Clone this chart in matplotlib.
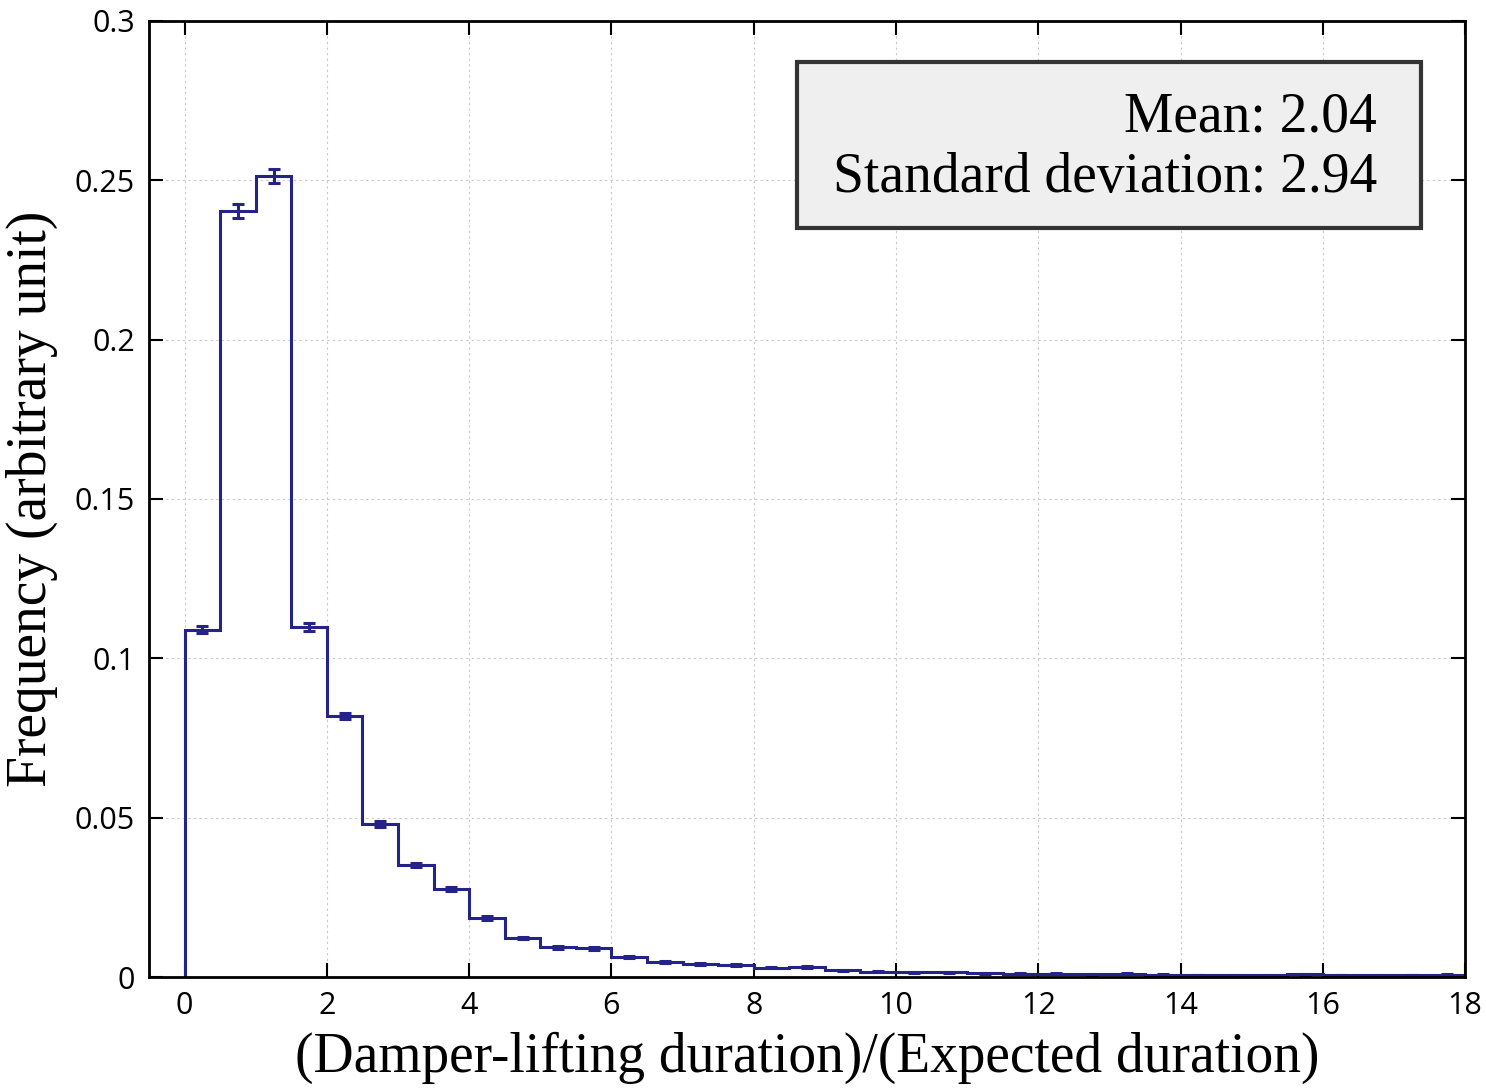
import numpy as np
import matplotlib
matplotlib.use("Agg")
import matplotlib.pyplot as plt
from matplotlib.patches import Rectangle

# Data
bin_edges = np.arange(0, 18.01, 0.5)
frequency = [0.109, 0.2403, 0.2513, 0.1098, 0.0819, 0.0480, 0.0352, 0.0277,
             0.0185, 0.0123, 0.0093, 0.0090, 0.0063, 0.0047, 0.0040, 0.0037,
             0.0029, 0.0031, 0.0021, 0.0017, 0.0015, 0.0015, 0.0012, 0.0011,
             0.0010, 0.0008, 0.0011, 0.0007, 0.0006, 0.0005, 0.0005, 0.0008,
             0.0006, 0.0005, 0.0006, 0.0007]
errors = [0.0012, 0.0022, 0.0022, 0.0012, 0.0010, 0.0008, 0.0007, 0.0006,
          0.0005, 0.0004, 0.0004, 0.0004, 0.0003, 0.0003, 0.0003, 0.0003,
          0.0002, 0.0002, 0.0002, 0.0002, 0.0002, 0.0002, 0.0002, 0.0002,
          0.0002, 0.0001, 0.0002, 0.0001, 0.0001, 0.0001, 0.0001, 0.0001,
          0.0001, 0.0001, 0.0001, 0.0001]
x_ticks = [0, 2, 4, 6, 8, 10, 12, 14, 16, 18]
y_ticks = [0, 0.05, 0.1, 0.15, 0.2, 0.25, 0.3]
y_tick_labels = ["0", "0.05", "0.1", "0.15", "0.2", "0.25", "0.3"]
stats_lines = ["Mean: 2.04", "Standard deviation: 2.94"]

color = "#23238a"
serif = "Liberation Serif"
sans = "Open Sans"

fig = plt.figure(figsize=(14.86, 10.92), dpi=100)
ax = fig.add_axes([0.1003, 0.1053, 0.8856, 0.8755])

ax.stairs(frequency, bin_edges, baseline=0, fill=False, color=color, lw=2.2)
centers = (bin_edges[:-1] + bin_edges[1:]) / 2
ax.errorbar(centers, frequency, yerr=errors, fmt="none", ecolor=color,
            elinewidth=2.2, capsize=4.5, capthick=2.2)

ax.set_xlim(-0.5, 18)
ax.set_ylim(0, 0.3)
ax.set_xticks(x_ticks)
ax.set_yticks(y_ticks)
ax.set_yticklabels(y_tick_labels)
ax.tick_params(direction="in", length=10, width=1.5, top=True, right=True,
               labelsize=22, pad=10)
for lab in ax.get_xticklabels() + ax.get_yticklabels():
    lab.set_family(sans)
for sp in ax.spines.values():
    sp.set_linewidth(2)
ax.grid(True, linestyle=(0, (2, 3)), color="#c8c8c8", lw=0.8)
ax.set_axisbelow(True)

ax.set_xlabel("(Damper-lifting duration)/(Expected duration)",
              family=serif, fontsize=40, labelpad=8)
ax.set_ylabel("Frequency (arbitrary unit)", family=serif, fontsize=40, labelpad=12)

ax.add_patch(Rectangle((0.4924, 0.7835), 0.4742, 0.1736, transform=ax.transAxes,
                       facecolor="#efefef", edgecolor="#333333", lw=3, zorder=5))
ax.text(0.9331, 0.8839, stats_lines[0], transform=ax.transAxes, ha="right",
        va="baseline", family=serif, fontsize=40, zorder=6)
ax.text(0.9331, 0.8211, stats_lines[1], transform=ax.transAxes, ha="right",
        va="baseline", family=serif, fontsize=40, zorder=6)

fig.savefig("out.png", dpi=100)
